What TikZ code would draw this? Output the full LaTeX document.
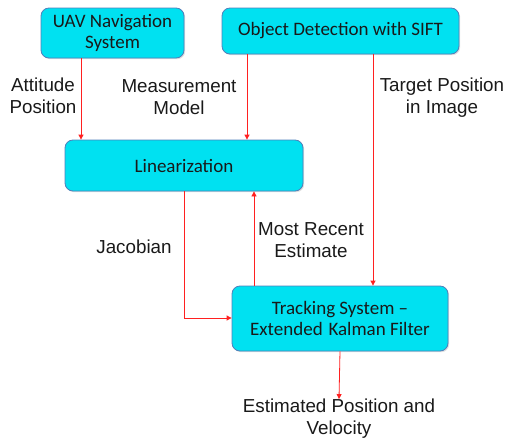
\documentclass[tikz,border=0pt]{standalone}
\usepackage{fontspec}
\setmainfont{Liberation Sans}
\newfontfamily\boxfont{Carlito}
\usetikzlibrary{arrows.meta,shadows}
\definecolor{boxfill}{HTML}{00E1F1}
\definecolor{boxline}{HTML}{4F7FBA}
\definecolor{arrred}{HTML}{FF2020}
\begin{document}
\begin{tikzpicture}[x=1pt,y=-1pt,
  blk/.style={draw=boxline,line width=0.8pt,fill=boxfill,rounded corners=8pt,
    inner sep=0pt,align=center,font=\boxfont\fontsize{19}{21.5}\selectfont,text=black!90,
    drop shadow={shadow xshift=1.2pt,shadow yshift=-1.2pt,opacity=0.25}},
  lbl/.style={inner sep=0pt,align=center,font=\fontsize{18.8}{22}\selectfont,text=black!90},
  arr/.style={draw=arrred,line width=0.8pt,-{Triangle[width=5pt,length=5pt]}}]
\useasboundingbox (0,0) rectangle (507,442);
\node[blk,minimum width=143pt,minimum height=50pt] (uav) at (112.5,33) {UAV Navigation\\System};
\node[blk,minimum width=237pt,minimum height=46pt] (obj) at (340.5,31) {Object Detection with SIFT};
\node[blk,minimum width=238pt,minimum height=51pt] (lin) at (184,165.5) {Linearization};
\node[blk,minimum width=216pt,minimum height=65pt] (trk) at (340,318.5) {Tracking System –\\Extended\hspace{1.5pt} Kalman Filter};
\node[lbl] (out) at (339,419) {Estimated Position and\\Velocity};
\node[lbl] (latt) at (43,96) {Attitude\\Position};
\node[lbl] (lmeas) at (179,97) {Measurement\\Model};
\node[lbl] (ltgt) at (442,98) {Target Position\\in Image};
\node[lbl] (ljac) at (134,247) {Jacobian};
\node[lbl] (lmre) at (311,240) {Most Recent\\Estimate};
\coordinate (xa) at (81,0);
\coordinate (xb) at (247,0);
\coordinate (xc) at (373,0);
\coordinate (xd) at (184,0);
\coordinate (xe) at (254,0);
\coordinate (ya) at (0,318);
\draw[arr] (uav.south -| xa) -- (lin.north -| xa);
\draw[arr] (obj.south -| xb) -- (lin.north -| xb);
\draw[arr] (obj.south -| xc) -- (trk.north -| xc);
\draw[arr] (lin.south -| xd) -- (xd |- ya) -- (trk.west |- ya);
\draw[arr] (trk.north -| xe) -- (lin.south -| xe);
\draw[arr] (trk.south) -- (out.north);
\end{tikzpicture}
\end{document}
